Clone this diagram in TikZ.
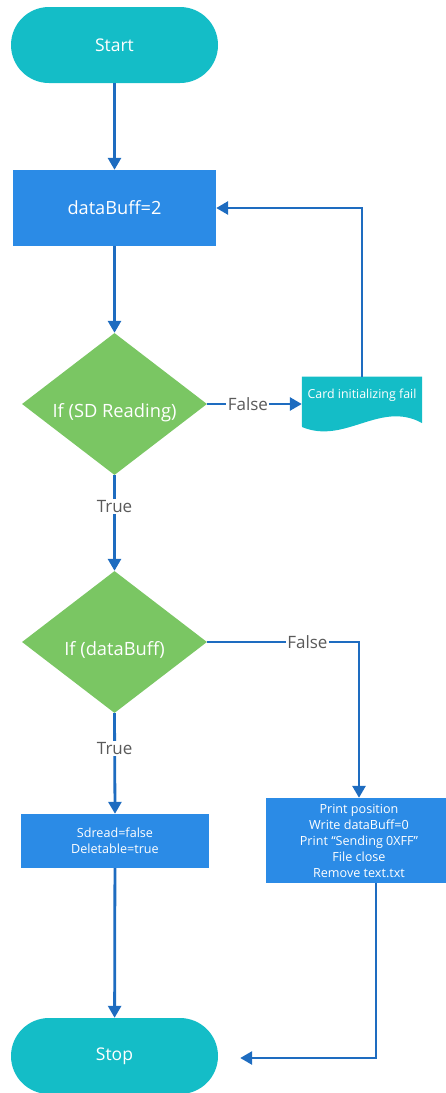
\documentclass[tikz,border=0pt]{standalone}
\usepackage{fontspec}
\setmainfont{Open Sans}
\usetikzlibrary{shapes.geometric,arrows.meta,calc}
\definecolor{termc}{HTML}{14BDC7}
\definecolor{procc}{HTML}{2B8BE6}
\definecolor{decc}{HTML}{7AC663}
\definecolor{linec}{HTML}{1E6CC0}
\definecolor{labc}{HTML}{5A5A5A}
\tikzset{
  base/.style={text=white, inner sep=2pt, align=center},
  term/.style={base, shape=rectangle, fill=termc, rounded corners=38pt,
    minimum width=207pt, minimum height=76pt, font=\fontsize{17.5}{20}\selectfont},
  proc/.style={base, shape=rectangle, fill=procc},
  decision/.style={base, shape=diamond, shape aspect=1.3, fill=decc, minimum width=185pt,
    minimum height=142pt, inner sep=0pt, text height=30pt, text depth=4pt,
    font=\fontsize{18.3}{20}\selectfont},
  flow/.style={draw=linec, line width=2.8pt, -{Triangle[width=13pt,length=12pt]}},
  lbl/.style={fill=white, text=labc, inner sep=1.5pt, font=\fontsize{17}{20}\selectfont},
  small/.style={font=\fontsize{12.6}{16}\selectfont}
}
\begin{document}
\begin{tikzpicture}[x=1pt,y=-1pt]
\useasboundingbox (0,0) rectangle (445,1093);

% shapes
\node[term] (start) at (114.5,45) {Start};
\node[proc, minimum width=203pt, minimum height=76pt,
      font=\fontsize{18.2}{20}\selectfont] (init) at (114.5,208) {dataBuff=2};
\node[decision] (sd) at (114.5,404) {If (SD Reading)};

% document shape with a wavy lower edge
\node[base, shape=rectangle, minimum width=120pt, minimum height=39pt] (card) at (362,396.2) {};
\fill[termc] (card.north west) -- (card.north east) -- (422,423)
  .. controls (380,400) and (345,445) .. (302,427) -- cycle;
\node[base, font=\fontsize{12.4}{14}\selectfont] (cardtxt) at (362,395) {Card initializing fail};

\node[decision] (db) at (114.5,642) {If (dataBuff)};
\node[proc, small, minimum width=188pt, minimum height=54pt] (flags) at (115,841)
  {Sdread=false\\Deletable=true};
\node[proc, small, minimum width=186pt, minimum height=85pt] (dump) at (359,840.5)
  {Print position\\Write dataBuff=0\\Print ``Sending 0XFF''\\File close\\Remove text.txt};
\node[term] (stop) at (114.5,1056) {Stop};

% connectors
\coordinate (dumpout) at ($(dump.south)+(17,0)$);
\coordinate (stopin) at ($(stop.east)+(22,2)$);
\draw[flow] (start) -- (init);
\draw[flow] (init) -- (sd);
\draw[flow] (sd.east) -- node[lbl, pos=0.43] {False} (sd.east -| card.west);
\draw[flow] (card.north) |- (init.east);
\draw[flow] (sd.south) -- node[lbl, pos=0.33] {True} (db.north);
\draw[flow] (db.east) -| node[lbl, pos=0.33] {False} (dump.north);
\draw[flow] (db.south) -- node[lbl, pos=0.35] {True} (flags.north);
\draw[flow] (flags) -- (stop);
\draw[flow] (dumpout) |- (stopin);
\end{tikzpicture}
\end{document}
